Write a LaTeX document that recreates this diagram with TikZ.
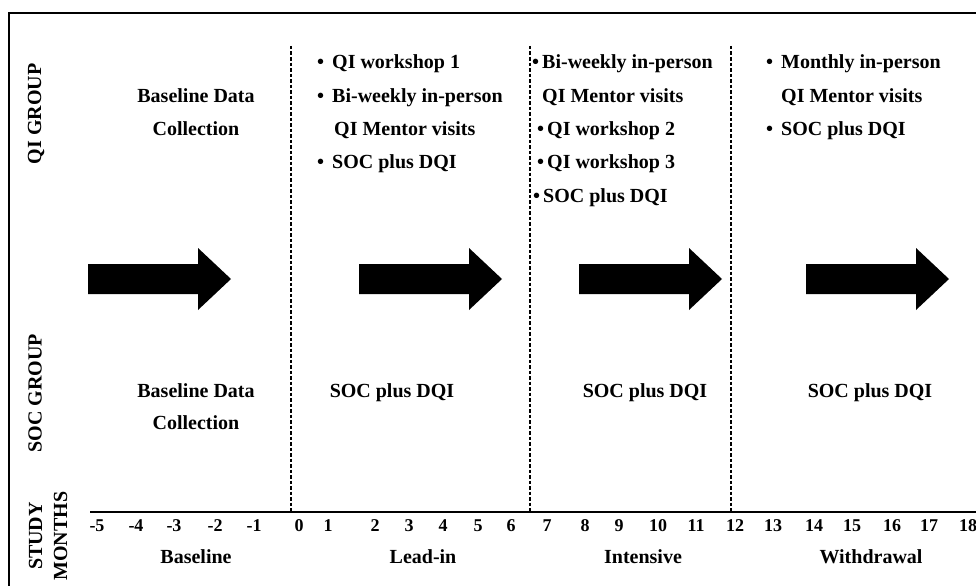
\documentclass[tikz,border=0pt]{standalone}
\usepackage{fontspec}
\setmainfont{Liberation Serif}
\usepackage{tikz}
\usetikzlibrary{positioning}
\definecolor{tlink}{HTML}{000000}
\newcommand{\lblfont}{\fontsize{20}{25}\selectfont\bfseries}
\newcommand{\numfont}{\fontsize{18}{20}\selectfont\bfseries}
\newcommand{\bul}[1][8pt]{\textbullet\hspace{#1}}

\begin{document}
\begin{tikzpicture}[x=1pt, y=-1pt,
    lbl/.style={font=\lblfont, inner sep=0pt, text=tlink},
    itm/.style={lbl, anchor=base west},
    ctr/.style={lbl, anchor=base},
    grp/.style={lbl, rotate=90, align=center},
    num/.style={font=\numfont, inner sep=0pt, anchor=base, text=tlink},
    phaseline/.style={draw=tlink, line width=1.3pt, dash pattern=on 3.5pt off 2pt}]
\useasboundingbox (0,0) rectangle (976,586);
% Frame
\draw[draw=tlink, line width=2pt] (976,13) -- (9,13) -- (9,586);
% Phase boundaries
\foreach \x in {291, 530, 731} {
    \draw[phaseline] (\x,46) -- (\x,512);
}
% Time axis
\draw[draw=tlink, line width=1.8pt] (90,512) -- (976,512);
% Block arrows
\foreach \x in {88, 359, 579, 806} {
    \fill[tlink] (\x,264) -- ++(110,0) -- ++(0,-16) -- ++(33,31)
        -- ++(-33,31) -- ++(0,-16) -- ++(-110,0) -- cycle;
}
% Row labels
\node[grp] (qigrp) at (36,114) {QI GROUP};
\node[grp] (socgrp) at (35,393) {SOC GROUP};
\node[grp] (months) at (48,536) {STUDY\\MONTHS};
% QI group: baseline
\node[ctr] (qibase1) at (196,102) {Baseline Data};
\node[ctr] (qibase2) at (196,135) {Collection};
% QI group: lead-in
\node[itm] (qilead1) at (317,68) {\bul QI workshop 1};
\node[itm] (qilead2) at (317,102) {\bul Bi-weekly in-person};
\node[itm] (qilead3) at (334,135) {QI Mentor visits};
\node[itm] (qilead4) at (317,168) {\bul SOC plus DQI};
% QI group: intensive
\node[itm] (qiint1) at (532,68) {\bul[3pt]Bi-weekly in-person};
\node[itm] (qiint2) at (542,102) {QI Mentor visits};
\node[itm] (qiint3) at (537,135) {\bul[3pt]QI workshop 2};
\node[itm] (qiint4) at (537,168) {\bul[3pt]QI workshop 3};
\node[itm] (qiint5) at (533,202) {\bul[3pt]SOC plus DQI};
% QI group: withdrawal
\node[itm] (qiwd1) at (766,68) {\bul Monthly in-person};
\node[itm] (qiwd2) at (781,102) {QI Mentor visits};
\node[itm] (qiwd3) at (766,135) {\bul SOC plus DQI};
% SOC group
\node[ctr] (socbase1) at (196,397) {Baseline Data};
\node[ctr] (socbase2) at (196,429) {Collection};
\node[ctr] (soclead) at (392,397) {SOC plus DQI};
\node[ctr] (socint) at (645,397) {SOC plus DQI};
\node[ctr] (socwd) at (870,397) {SOC plus DQI};
% Study months
\foreach \x/\m in {97/-5, 136/-4, 174/-3, 215/-2, 254/-1, 299/0, 328/1,
                   375/2, 409/3, 443/4, 478/5, 511/6, 547/7, 585/8, 619/9,
                   658/10, 696/11, 735/12, 773/13, 814/14, 852/15, 892/16,
                   929/17, 968/18} {
    \node[num] (m\m) at (\x,531) {\m};
}
% Phase names
\node[ctr] (phbase) at (196,563) {Baseline};
\node[ctr] (phlead) at (423,563) {Lead-in};
\node[ctr] (phint) at (643,563) {Intensive};
\node[ctr] (phwd) at (871,563) {Withdrawal};
\end{tikzpicture}
\end{document}
